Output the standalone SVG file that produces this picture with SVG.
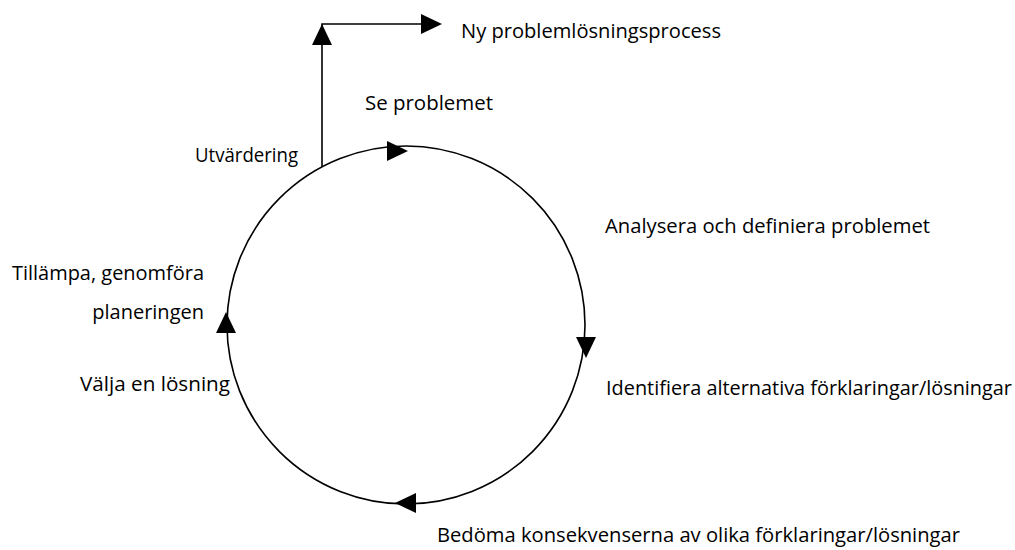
<svg xmlns="http://www.w3.org/2000/svg" width="1015" height="550" viewBox="0 0 1015 550">
<style>
text { font-family: "Open Sans", "Noto Sans", sans-serif; font-size: 20px; fill: #000; }
.ln { fill: none; stroke: #000; stroke-width: 1.6; }
.ah { fill: #000; stroke: none; }
</style>
<rect width="1015" height="550" fill="#fff"/>
<g id="connectors">
  <circle class="ln" cx="406" cy="325" r="179"/>
  <polyline class="ln" points="322,167 322,24 425,24"/>
  <polygon class="ah" points="322,24 312,45 332,45"/>
  <polygon class="ah" points="442,24 421,14 421,34"/>
  <polygon class="ah" points="408,151 387,141 387,161"/>
  <polygon class="ah" points="586,358 576,337 596,337"/>
  <polygon class="ah" points="395,503 416,493 416,513"/>
  <polygon class="ah" points="226,312 216,333 236,333"/>
</g>
<g id="node-ny"><text x="461" y="38" textLength="260" lengthAdjust="spacingAndGlyphs">Ny problemlösningsprocess</text></g>
<g id="node-se"><text x="365" y="110" textLength="128" lengthAdjust="spacingAndGlyphs">Se problemet</text></g>
<g id="node-utv"><text x="195" y="162" textLength="103" lengthAdjust="spacingAndGlyphs">Utvärdering</text></g>
<g id="node-analys"><text x="605" y="233" textLength="325" lengthAdjust="spacingAndGlyphs">Analysera och definiera problemet</text></g>
<g id="node-tillampa"><text x="12" y="280" textLength="192" lengthAdjust="spacingAndGlyphs">Tillämpa, genomföra</text><text x="204" y="319" text-anchor="end">planeringen</text></g>
<g id="node-identifiera"><text x="606" y="395" textLength="406" lengthAdjust="spacingAndGlyphs">Identifiera alternativa förklaringar/lösningar</text></g>
<g id="node-valja"><text x="80" y="391" textLength="150" lengthAdjust="spacingAndGlyphs">Välja en lösning</text></g>
<g id="node-bedoma"><text x="437" y="542" textLength="523" lengthAdjust="spacingAndGlyphs">Bedöma konsekvenserna av olika förklaringar/lösningar</text></g>
</svg>
